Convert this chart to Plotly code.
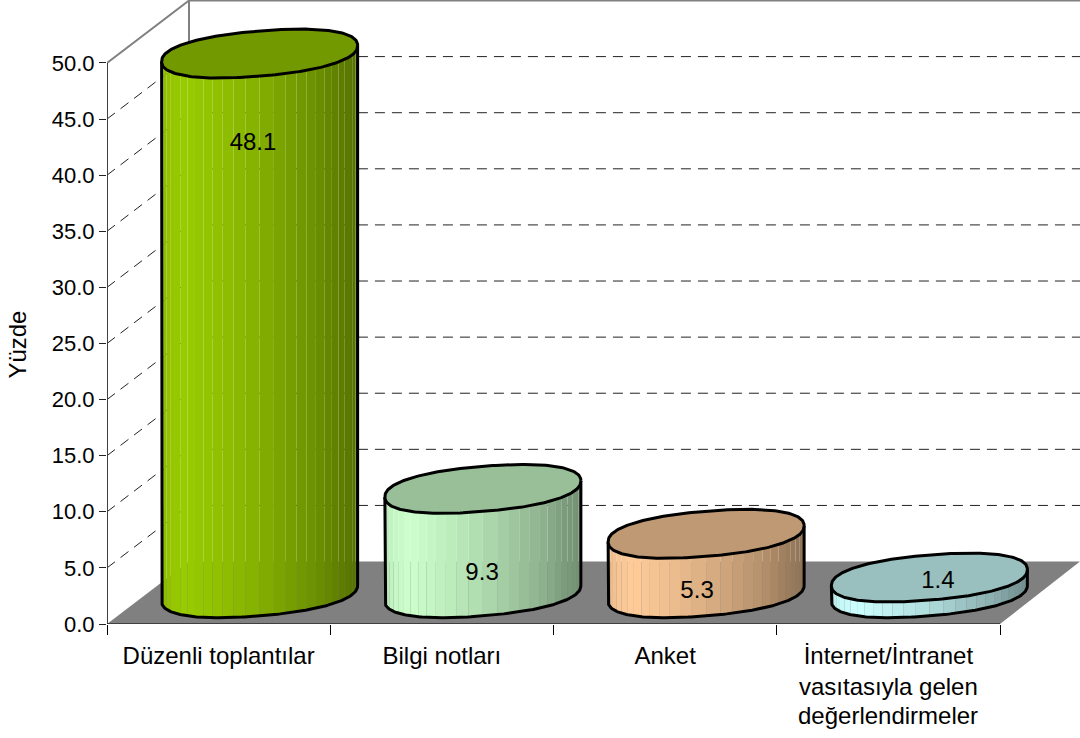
import numpy as np
import plotly.graph_objects as go

categories = ["Düzenli toplantılar", "Bilgi notları", "Anket", "İnternet/İntranet"]
extra_label_lines = ["vasıtasıyla gelen", "değerlendirmeler"]
values = [48.1, 9.3, 5.3, 1.4]
y_ticks = [0, 5, 10, 15, 20, 25, 30, 35, 40, 45, 50]
y_title = "Yüzde"
label_x = [0.654, 1.68, 2.643, 3.722]
label_y = [42.8, 4.48, 2.82, 3.7]
side_colors = [(153, 204, 0), (204, 255, 204), (255, 204, 153), (204, 255, 255)]

FONT = "Liberation Sans, Arial, sans-serif"
W, H = 1080, 738
LEFT, BOTTOM = 107, 113.5
PX_X, PX_Y = 223.25, 11.23
XMAX = (W - LEFT) / PX_X
YMAX = (H - BOTTOM) / PX_Y
DX, DY = 82 / PX_X, 62.5 / PX_Y      # depth of the 3D box
A = 98 / PX_X                        # ellipse half width
P, Q = 8.0 / PX_Y, 22.6 / PX_Y       # ellipse tilt / half height
N = 28
ROUND = 0.88                         # slightly squarer ellipse, as in the reference

fig = go.Figure()


def poly(xs, ys, fill=None, line=None, width=0, dash=None):
    fig.add_trace(go.Scatter(
        x=list(xs), y=list(ys), mode="lines", hoverinfo="skip", showlegend=False,
        fill="toself" if fill else None, fillcolor=fill, cliponaxis=False,
        line=dict(color=line or "rgba(0,0,0,0)", width=width, dash=dash),
    ))


def ex(cx, t):
    c = np.cos(t)
    return cx + A * np.sign(c) * np.abs(c) ** ROUND


def ey(cy, t):
    c, s = np.cos(t), np.sin(t)
    return cy + P * np.sign(c) * np.abs(c) ** ROUND - Q * np.sign(s) * np.abs(s) ** ROUND


# floor
poly([0, DX, XMAX, 4, 0], [0, DY, DY, 0, 0], fill="#808080")

# gridlines on the left and back walls
for v in y_ticks[1:-1]:
    poly([0, DX, XMAX], [v, v + DY, v + DY], line="#222222", width=1, dash="10px,7px")
poly([0, DX, XMAX], [50, 50 + DY, 50 + DY], line="#808080", width=2)
poly([DX, DX], [DY, 50 + DY], line="#808080", width=2)
# axis lines
poly([0, 0], [0, 50], line="#404040", width=2)
poly([0, 4], [0, 0], line="#000000", width=1)


def shade(u):
    return np.interp(u, [0, 0.05, 0.13, 0.5, 0.8, 0.93, 1], [0.9, 0.97, 1, 0.86, 0.7, 0.6, 0.56])


# cylinders
for i, (v, c) in enumerate(zip(values, side_colors)):
    cx = i + 0.5 + DX / 2
    cy = DY / 2 - 0.5 / PX_Y
    for k in range(N):
        t1, t2 = np.pi * (1 - k / N), np.pi * (1 - (k + 1) / N)
        x1, x2 = ex(cx, t1), ex(cx, t2)
        b1, b2 = ey(cy, t1), ey(cy, t2)
        s = shade(((x1 + x2) / 2 - cx + A) / (2 * A))
        col = "rgb(%d,%d,%d)" % tuple(int(round(ch * s)) for ch in c)
        poly([x1, x2, x2, x1, x1], [b1, b2, b2 + v, b1 + v, b1], fill=col)
    # silhouette
    t = np.linspace(np.pi, 0, 120)
    xs = ex(cx, t)
    ys = ey(cy, t)
    poly([xs[0]] + list(xs) + [xs[-1]], [ys[0] + v] + list(ys) + [ys[-1] + v], line="#000000", width=3)
    # top face
    t = np.linspace(0, 2 * np.pi, 240)
    top = "rgb(%d,%d,%d)" % tuple(int(round(ch * 0.75)) for ch in c)
    poly(ex(cx, t), ey(cy + v, t), fill=top, line="#000000", width=3)

# value labels
fig.add_trace(go.Scatter(
    x=label_x, y=label_y, mode="text", text=[f"{v:.1f}" for v in values],
    textfont=dict(family=FONT, size=24, color="#000000"), textposition="middle center",
    hoverinfo="skip", showlegend=False, cliponaxis=False,
))

annotations = [
    dict(x=3.5, y=0, xref="x", yref="y", text=s, showarrow=False, yanchor="middle",
         yshift=-(62 + 29.5 * j), font=dict(family=FONT, size=24, color="#000000"))
    for j, s in enumerate(extra_label_lines)
]
annotations.append(dict(
    x=0, y=24.9, xref="x", yref="y", text=y_title, textangle=-90, showarrow=False,
    xshift=-89, font=dict(family=FONT, size=24, color="#000000"),
))

fig.update_layout(
    width=W, height=H, autosize=False,
    margin=dict(l=LEFT, r=0, t=0, b=BOTTOM, pad=0),
    paper_bgcolor="#ffffff", plot_bgcolor="#ffffff",
    font=dict(family=FONT, size=24, color="#000000"),
    annotations=annotations,
    xaxis=dict(
        range=[0, XMAX], showgrid=False, zeroline=False, showline=False,
        tickmode="array", tickvals=[i + 0.5 for i in range(4)], ticktext=categories,
        ticks="outside", ticklen=10, tickcolor="rgba(0,0,0,0)",
        tickfont=dict(family=FONT, size=24),
        minor=dict(tickmode="array", tickvals=[0, 1, 2, 3, 4], ticks="outside", ticklen=10,
                   tickcolor="#000000", tickwidth=1, showgrid=False),
    ),
    yaxis=dict(
        range=[0, YMAX], showgrid=False, zeroline=False, showline=False,
        tickmode="array", tickvals=y_ticks, tickformat=".1f",
        ticks="outside", ticklen=7, tickcolor="#222222", tickwidth=1,
        tickfont=dict(family=FONT, size=22),
    ),
)
fig.write_html("out.html", config=dict(displayModeBar=False),
               post_script='document.body.style.margin="0";')
